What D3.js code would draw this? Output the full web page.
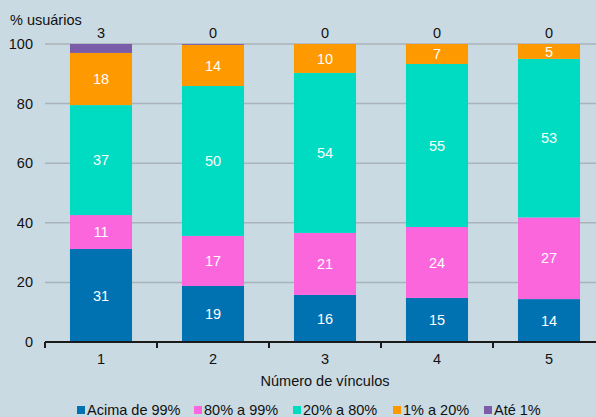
<!DOCTYPE html>
<head>
<meta charset="utf-8">
<script src="https://d3js.org/d3.v7.min.js"></script>
</head>
<style>
body { margin: 0; background: #c9dae3; }
svg { display: block; font-family: "Liberation Sans", Arial, sans-serif; }
</style>
<body>
<svg class="chart"></svg>
</body>
<script>
// categories and series (percent of users)
var categories = ["1", "2", "3", "4", "5"];
var seriesNames = ["Acima de 99%", "80% a 99%", "20% a 80%", "1% a 20%", "Até 1%"];
var acima99 = [31.2, 18.8, 15.8, 14.8, 14.4];
var de80a99 = [11.4, 16.8, 20.8, 23.8, 27.4];
var de20a80 = [36.9, 50.3, 53.7, 54.7, 53.2];
var de1a20 = [17.5, 13.8, 9.7, 6.7, 5.0];
var ate1 = [3.0, 0.3, 0, 0, 0];
var yTicks = [0, 20, 40, 60, 80, 100];
var colors = ["#0072b2", "#fb66dd", "#00dcc1", "#ff9900", "#7a5ca8"];

var width = 596, height = 417;
var margin = {top: 44, left: 45, bottom: 75};

var rows = categories.map(function(c, i) {
	return {cat: c, s0: acima99[i], s1: de80a99[i], s2: de20a80[i], s3: de1a20[i], s4: ate1[i]};
});
var keys = ["s0", "s1", "s2", "s3", "s4"];
var stacked = d3.stack().keys(keys)(rows);

var svg = d3.select(".chart").attr("width", width).attr("height", height);

var xTicks = d3.scaleBand().domain(categories).range([margin.left, margin.left + 112 * 5]);
var xChart = d3.scaleBand().domain(categories)
	.range([margin.left, margin.left + 112 * 5])
	.paddingInner(0.446).paddingOuter(0.223);
var yChart = d3.scaleLinear().domain([0, 100]).range([342, 44]);

// gridlines
svg.append("g").selectAll("line")
	.data(yTicks.filter(function(d){ return d > 0; }))
	.enter().append("line")
	.attr("x1", margin.left).attr("x2", width)
	.attr("y1", function(d){ return yChart(d); })
	.attr("y2", function(d){ return yChart(d); })
	.attr("stroke", "#a9b3b9").attr("stroke-width", 1.5);

// bars
var layers = svg.append("g").selectAll("g")
	.data(stacked).enter().append("g")
	.attr("fill", function(d, i){ return colors[i]; });

layers.selectAll("rect")
	.data(function(d){ return d; })
	.enter().append("rect")
	.attr("x", function(d){ return xChart(d.data.cat); })
	.attr("width", xChart.bandwidth())
	.attr("y", function(d){ return yChart(d[1]); })
	.attr("height", function(d){ return yChart(d[0]) - yChart(d[1]); });

// labels inside segments (first four series)
stacked.slice(0, 4).forEach(function(layer) {
	svg.append("g").selectAll("text")
		.data(layer).enter().append("text")
		.attr("x", function(d){ return xChart(d.data.cat) + xChart.bandwidth() / 2; })
		.attr("y", function(d){ return yChart((d[0] + d[1]) / 2); })
		.attr("dy", "0.35em")
		.attr("text-anchor", "middle")
		.attr("fill", "#fff")
		.style("font-size", "14.5px")
		.text(function(d){ return Math.round(d[1] - d[0]); });
});

// top labels for "Até 1%"
svg.append("g").selectAll("text")
	.data(stacked[4]).enter().append("text")
	.attr("x", function(d){ return xChart(d.data.cat) + xChart.bandwidth() / 2; })
	.attr("y", 38)
	.attr("text-anchor", "middle")
	.attr("fill", "#111")
	.style("font-size", "14.5px")
	.text(function(d){ return Math.round(d[1] - d[0]); });

// y axis labels
svg.append("g").selectAll("text")
	.data(yTicks).enter().append("text")
	.attr("x", 33)
	.attr("y", function(d){ return yChart(d); })
	.attr("dy", "0.35em")
	.attr("text-anchor", "end")
	.attr("fill", "#111")
	.style("font-size", "14.5px")
	.text(function(d){ return d; });

svg.append("text")
	.attr("x", 10).attr("y", 25)
	.attr("fill", "#111")
	.style("font-size", "14.5px")
	.text("% usuários");

// x axis
var xAxis = d3.axisBottom(xTicks).tickSize(0).tickPadding(12);
var gx = svg.append("g")
	.attr("transform", "translate(0,342)")
	.call(xAxis);
gx.select(".domain").remove();
gx.selectAll("text").style("font-size", "14.5px").attr("fill", "#111")
	.style("font-family", "Liberation Sans, Arial, sans-serif");

svg.append("line")
	.attr("x1", margin.left).attr("x2", width)
	.attr("y1", 342).attr("y2", 342)
	.attr("stroke", "#1a1a1a").attr("stroke-width", 2);

svg.append("g").selectAll("line")
	.data(categories).enter().append("line")
	.attr("x1", function(d){ return xTicks(d); })
	.attr("x2", function(d){ return xTicks(d); })
	.attr("y1", 342).attr("y2", 348)
	.attr("stroke", "#1a1a1a").attr("stroke-width", 2);

svg.append("text")
	.attr("x", 325).attr("y", 386)
	.attr("text-anchor", "middle")
	.attr("fill", "#111")
	.style("font-size", "14.5px")
	.text("Número de vínculos");

// legend
var legendX = [77, 194, 293, 393, 484];
var legend = svg.append("g").selectAll("g")
	.data(seriesNames).enter().append("g")
	.attr("transform", function(d, i){ return "translate(" + legendX[i] + ",0)"; });
legend.append("rect")
	.attr("x", 0).attr("y", 406).attr("width", 8).attr("height", 8)
	.attr("fill", function(d, i){ return colors[i]; });
legend.append("text")
	.attr("x", 10).attr("y", 415)
	.attr("fill", "#111")
	.style("font-size", "14.5px")
	.text(function(d){ return d; });
</script>
